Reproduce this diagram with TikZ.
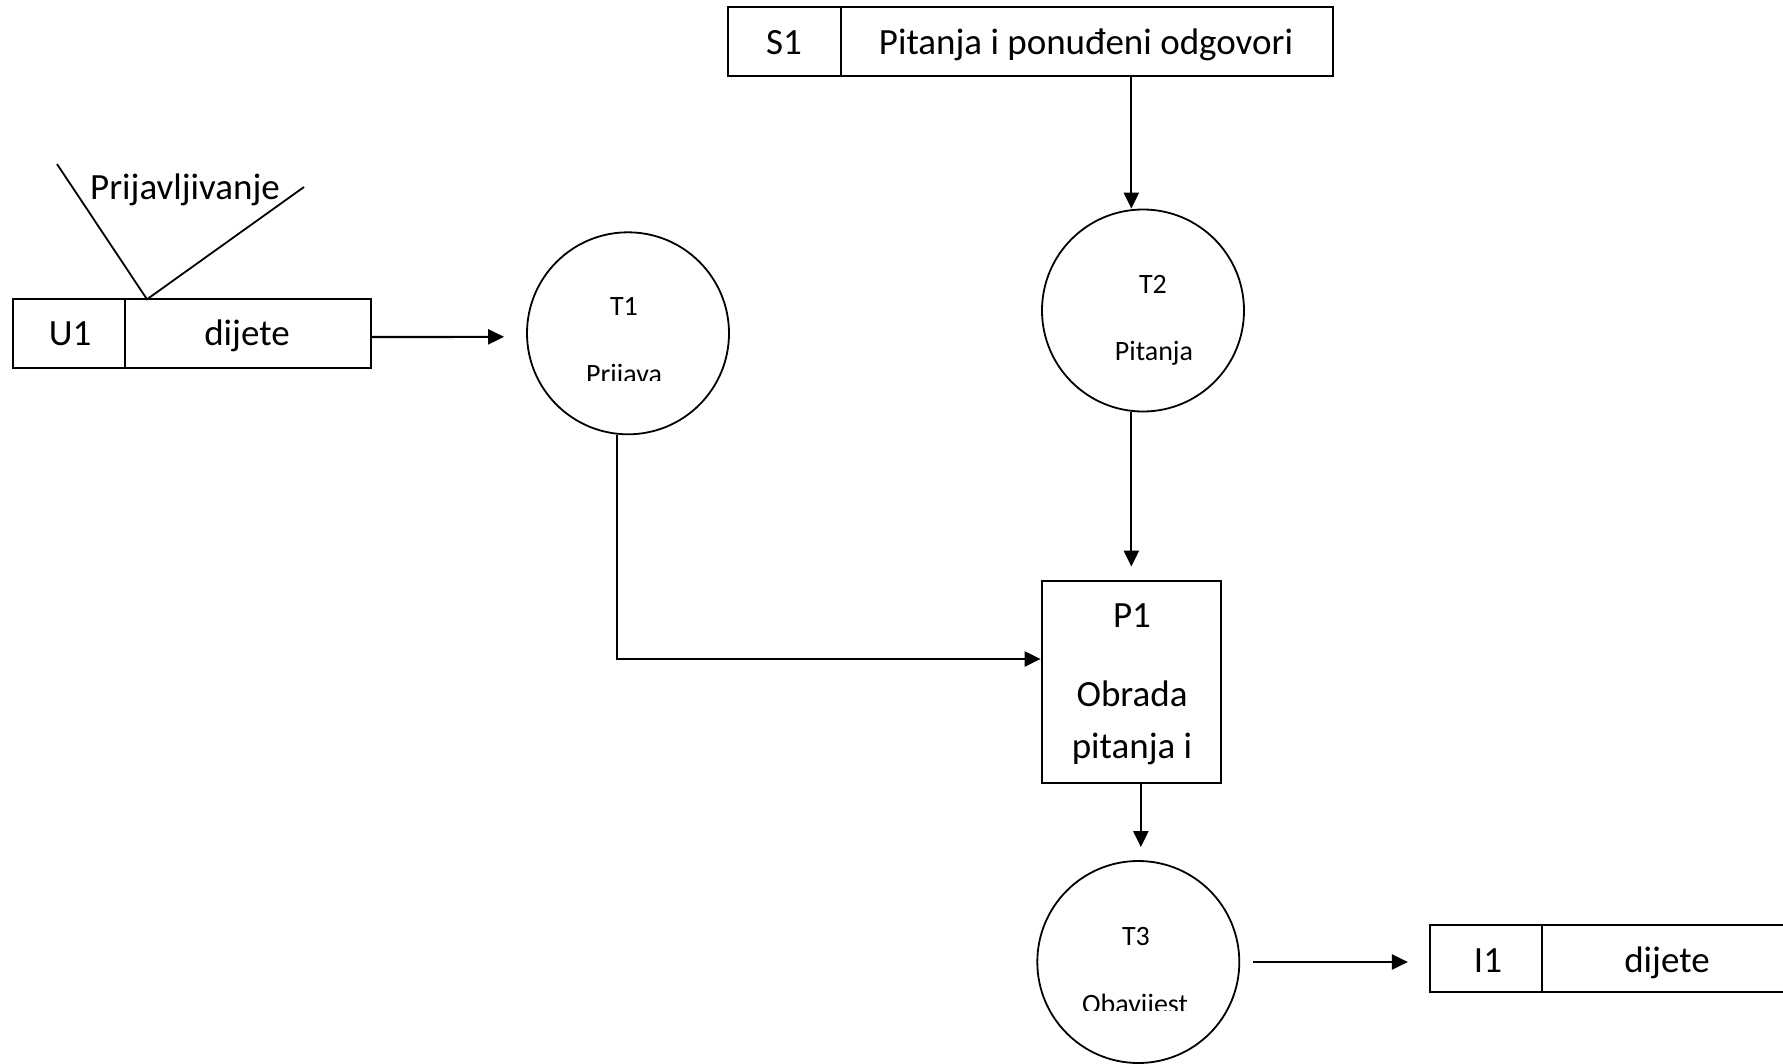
\documentclass[tikz,border=0pt]{standalone}
\usepackage{fontspec}
\setmainfont{Carlito}
\usetikzlibrary{arrows.meta}
\begin{document}
\begin{tikzpicture}[x=1pt,y=-1pt,
  ln/.style={line width=2.2pt},
  arr/.style={ln,-{Triangle[length=16pt,width=15pt]}},
  cell/.style={draw,ln,rectangle,inner sep=0pt},
  proc/.style={draw,line width=1.8pt,circle,inner sep=0pt,minimum size=202pt},
  big/.style={font=\fontsize{37}{44}\selectfont,anchor=base,inner sep=0pt},
  small/.style={font=\fontsize{28}{34}\selectfont,anchor=base,inner sep=0pt}]
\useasboundingbox (0,0) rectangle (1783,1063);

% data stores / entities
\node[cell,minimum width=112.4pt,minimum height=68.4pt] (s1a) at (784.5,41.5) {};
\node[cell,minimum width=492pt,minimum height=68.4pt] (s1b) at (1086.7,41.5) {};
\node[cell,minimum width=112.3pt,minimum height=68.4pt] (u1a) at (68.85,333.5) {};
\node[cell,minimum width=246pt,minimum height=68.4pt] (u1b) at (248,333.5) {};
\node[cell,minimum width=112pt,minimum height=67pt] (i1a) at (1486,958.5) {};
\node[cell,minimum width=250pt,minimum height=67pt] (i1b) at (1667,958.5) {};
\node[cell,minimum width=179.3pt,minimum height=202pt] (p1) at (1131.35,681.7) {};

% processes
\node[proc] (t1) at (628,333.3) {};
\node[proc] (t2) at (1143,310.5) {};
\node[proc] (t3) at (1138.3,962) {};

% texts
\node[big] (s1t) at (784,54) {S1};
\node[big] (s1n) at (1086,54) {Pitanja i ponuđeni odgovori};
\node[big] (u1t) at (70,345) {U1};
\node[big] (u1n) at (247,345) {dijete};
\node[big] (prt) at (185,199) {Prijavljivanje};
\node[small] (t1t) at (624,315) {T1};
\begin{scope}
  \clip (500,300) rectangle (750,380);
  \node[small] (t1n) at (624,383) {Prijava};
\end{scope}
\node[small] (t2t) at (1153,293) {T2};
\node[small] (t2n) at (1154,360) {Pitanja};
\node[big] (p1t) at (1132,627) {P1};
\node[big] (p1a) at (1132,706) {Obrada};
\node[big] (p1b) at (1132,758) {pitanja i};
\node[small] (t3t) at (1136,945) {T3};
\begin{scope}
  \clip (1000,950) rectangle (1300,1010);
  \node[small] (t3n) at (1135,1013) {Obavijest};
\end{scope}
\node[big] (i1t) at (1488,972) {I1};
\node[big] (i1n) at (1667,972) {dijete};

% flag lines for Prijavljivanje
\coordinate (vtip) at (147,299.3);
\coordinate (vl) at (57,164);
\coordinate (vr) at (304,187);
\draw[line width=1.8pt] (vl) -- (vtip) -- (vr);

% connectors
\draw[arr,shorten >=22pt] ([yshift=-3.5pt]u1b.east) -- ([yshift=-3.5pt]t1.west);
\draw[arr] (s1b.south -| p1.north) -- (t2.north -| p1.north);
\draw[arr,shorten >=13pt] (t2.south -| p1.north) -- (p1.north);
\coordinate (bend) at (617,659);
\draw[arr] (t1.south -| bend) -- (bend) -- (bend -| p1.west);
\draw[arr,shorten >=13pt] ([xshift=9.5pt]p1.south) -- ([xshift=9.5pt]p1.south |- t3.north);
\draw[arr,shorten <=13pt,shorten >=21pt] (t3.east) -- (t3.east -| i1a.west);
\end{tikzpicture}
\end{document}
